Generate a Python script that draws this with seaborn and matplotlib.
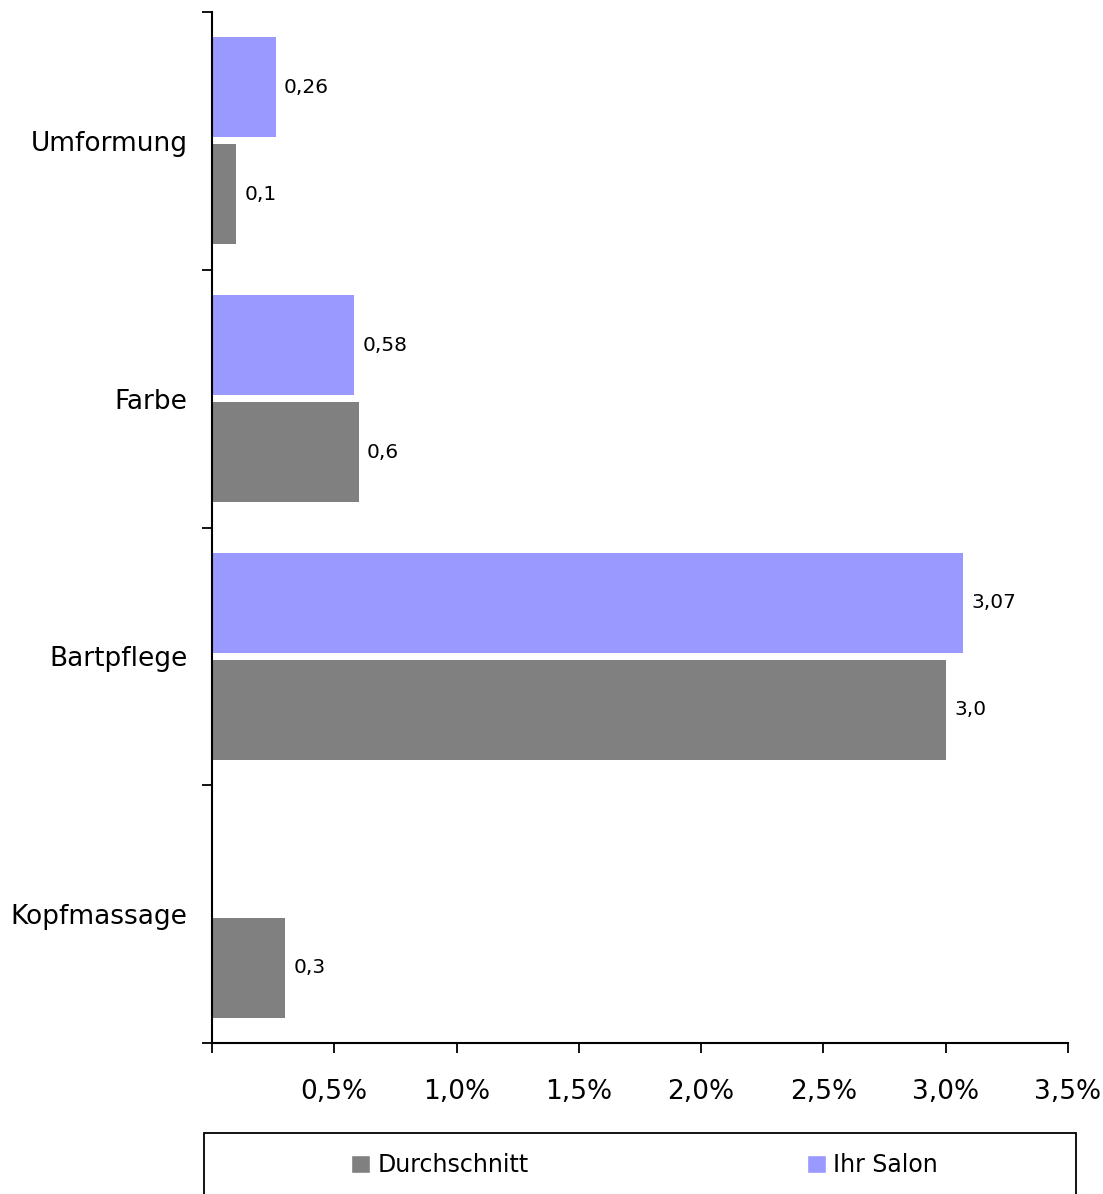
import matplotlib
matplotlib.use("Agg")
import matplotlib.pyplot as plt
from matplotlib.patches import Rectangle, Patch
from matplotlib.ticker import FixedLocator, FuncFormatter
import numpy as np
import pandas as pd
import seaborn as sns

# Share of services (%) per category
categories = ["Umformung", "Farbe", "Bartpflege", "Kopfmassage"]
ihr_salon = [0.26, 0.58, 3.07, np.nan]
durchschnitt = [0.1, 0.6, 3.0, 0.3]
series_names = ["Ihr Salon", "Durchschnitt"]
x_ticks = [0, 0.5, 1.0, 1.5, 2.0, 2.5, 3.0, 3.5]

colors = {"Ihr Salon": "#9999FF", "Durchschnitt": "#808080"}

df = pd.DataFrame({
    "Kategorie": categories * 2,
    "Wert": ihr_salon + durchschnitt,
    "Reihe": ["Ihr Salon"] * len(categories) + ["Durchschnitt"] * len(categories),
})

sns.set_style("white")
plt.rcParams["font.family"] = ["DejaVu Sans"]
plt.rcParams["text.color"] = "black"
plt.rcParams["xtick.color"] = "black"
plt.rcParams["ytick.color"] = "black"
plt.rcParams["axes.labelcolor"] = "black"

fig = plt.figure(figsize=(11.03, 11.94), dpi=100)
ax = fig.add_axes([212 / 1103, 1 - 1043 / 1194, (1068 - 212) / 1103, (1043 - 12) / 1194])

sns.barplot(
    data=df, x="Wert", y="Kategorie", hue="Reihe",
    order=categories, hue_order=series_names, palette=colors,
    orient="h", width=0.83, gap=0.065, saturation=1, legend=False,
    linewidth=0, ax=ax,
)

# Value labels next to each bar
fmts = {
    "Ihr Salon": lambda v: f"{v:.2f}".replace(".", ","),
    "Durchschnitt": lambda v: f"{v:.1f}".replace(".", ","),
}
for name, cont in zip(series_names, ax.containers):
    ax.bar_label(cont, fmt=fmts[name], padding=6, fontsize=14.5, color="black")

ax.set_xlim(0, 3.5)
ax.set_ylim(3.5, -0.5)
ax.set_xlabel("")
ax.set_ylabel("")

ax.xaxis.set_major_locator(FixedLocator(x_ticks))
ax.xaxis.set_major_formatter(FuncFormatter(
    lambda v, p: "" if v == 0 else f"{v:.1f}%".replace(".", ",")))
ax.tick_params(axis="x", which="major", direction="out", length=7, width=1.3,
               color="black", labelcolor="black", labelsize=19, pad=19, bottom=True)

# Category labels at centers, tick marks at category boundaries
ax.tick_params(axis="y", which="major", length=0, labelsize=19, pad=17.5,
               labelcolor="black")
ax.yaxis.set_minor_locator(FixedLocator(np.arange(-0.5, 4.0, 1.0)))
ax.tick_params(axis="y", which="minor", direction="out", length=7, width=1.3,
               color="black", left=True)

for side in ["top", "right"]:
    ax.spines[side].set_visible(False)
for side in ["left", "bottom"]:
    ax.spines[side].set_color("black")
    ax.spines[side].set_linewidth(1.5)

# Legend box below the plot
fig.patches.append(Rectangle((204 / 1103, -0.05), (1076 - 204) / 1103, 0.05 + 1 - 1133 / 1194,
                             transform=fig.transFigure, fill=False, edgecolor="black",
                             linewidth=1.3, clip_on=False))
handles = [Patch(facecolor=colors["Durchschnitt"], label="Durchschnitt"),
           Patch(facecolor=colors["Ihr Salon"], label="Ihr Salon")]
fig.legend(handles=handles, loc="center left", bbox_to_anchor=(330 / 1103, 1 - 1165 / 1194),
           ncol=2, frameon=False, fontsize=17, handlelength=0.8, handleheight=0.8,
           handletextpad=0.3, columnspacing=11.8, labelcolor="black")

fig.savefig("out.png", dpi=100)
